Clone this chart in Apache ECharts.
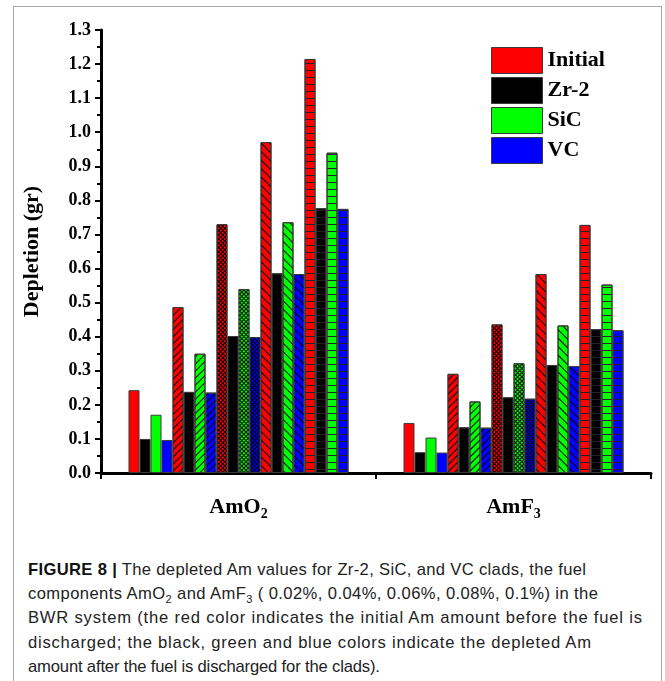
<!DOCTYPE html>
<html lang="en">
<head>
<meta charset="UTF-8">
<title>Depletion</title>
<script src="https://cdn.jsdelivr.net/npm/echarts@6/dist/echarts.min.js"></script>
<style>
    body { margin: 0; background: #fff; }
    #frame { position: absolute; left: 13px; top: 6px; width: 649px; height: 680px; border: 1px solid #a8a8a8; box-sizing: border-box; }
    #main { position: absolute; left: 0; top: 0; width: 665px; height: 530px; }
    #caption { position: absolute; left: 28px; top: 558px; font-family: "Liberation Sans", sans-serif; font-size: 16.6px; line-height: 24.2px; color: #222; }
    #caption div { white-space: nowrap; }
    #caption b { font-weight: bold; color: #111; }
    #caption sub { font-size: 11px; line-height: 0; }
</style>
</head>
<body>
<div id="frame"></div>
<div id="main"></div>
<div id="caption">
    <div data-w="558"><b>FIGURE 8 |</b> The depleted Am values for Zr-2, SiC, and VC clads, the fuel</div>
    <div data-w="570">components AmO<sub>2</sub> and AmF<sub>3</sub> ( 0.02%, 0.04%, 0.06%, 0.08%, 0.1%) in the</div>
    <div data-w="614">BWR system (the red color indicates the initial Am amount before the fuel is</div>
    <div data-w="563">discharged; the black, green and blue colors indicate the depleted Am</div>
    <div data-w="352">amount after the fuel is discharged for the clads).</div>
</div>
<script type="text/javascript">
    // categories (fuel components) and clads
    var fuels = ['AmO2', 'AmF3'];
    var clads = ['Initial', 'Zr-2', 'SiC', 'VC'];
    var concentrations = ['0.02%', '0.04%', '0.06%', '0.08%', '0.1%'];
    var yTicks = [0, 0.1, 0.2, 0.3, 0.4, 0.5, 0.6, 0.7, 0.8, 0.9, 1.0, 1.1, 1.2, 1.3];

    // depletion values (gr) per clad, per concentration: [AmO2, AmF3]
    var initial = [[0.243, 0.147], [0.487, 0.291], [0.730, 0.436], [0.971, 0.584], [1.215, 0.728]];
    var zr2     = [[0.100, 0.061], [0.238, 0.134], [0.402, 0.222], [0.586, 0.317], [0.777, 0.422]];
    var sic     = [[0.171, 0.104], [0.350, 0.210], [0.540, 0.322], [0.736, 0.433], [0.940, 0.553]];
    var vc      = [[0.097, 0.060], [0.236, 0.133], [0.399, 0.218], [0.584, 0.314], [0.775, 0.419]];

    var cladData = [initial, zr2, sic, vc];
    var colors = ['#ff0000', '#000000', '#00ff00', '#0000ff'];

    // hatch style for each concentration ( / , cross, \ , horizontal )
    function hatch(k, color) {
        if (k === 1) return { symbol: 'rect', color: '#000', dashArrayX: [1, 0], dashArrayY: [1, 3.2], rotation: -Math.PI / 4 };
        if (k === 2) return { symbol: 'rect', color: color, backgroundColor: '#000', dashArrayX: [2, 1], dashArrayY: [2, 1], rotation: Math.PI / 4 };
        if (k === 3) return { symbol: 'rect', color: '#000', dashArrayX: [1, 0], dashArrayY: [1, 4.7], rotation: Math.PI / 4 };
        if (k === 4) return { symbol: 'rect', color: '#222', dashArrayX: [1, 0], dashArrayY: [1, 5.8], rotation: 0 };
        return null;
    }

    var series = [];
    for (var k = 0; k < concentrations.length; k++) {
        for (var c = 0; c < clads.length; c++) {
            var st = { color: colors[c], borderColor: '#3a3a3a', borderWidth: 1 };
            var d = hatch(k, colors[c]);
            if (d) st.decal = d;
            series.push({
                name: clads[c],
                type: 'bar',
                data: cladData[c][k],
                barGap: 0,
                barCategoryGap: '20%',
                itemStyle: st,
                emphasis: { disabled: true }
            });
        }
    }

    var serif = '"Liberation Serif", "Times New Roman", serif';
    var option = {
        animation: false,
        legend: {
            data: clads,
            icon: 'rect',
            orient: 'vertical',
            left: 486,
            top: 42,
            itemWidth: 51,
            itemHeight: 26,
            itemGap: 3,
            textStyle: { fontFamily: serif, fontWeight: 'bold', fontSize: 22, color: '#000' },
            itemStyle: { borderColor: '#3a3a3a', borderWidth: 1 }
        },
        grid: { left: 101, right: 14, top: 30, bottom: 57 },
        xAxis: {
            type: 'category',
            data: fuels,
            axisLine: { lineStyle: { color: '#000', width: 3 } },
            axisTick: { show: true, length: 6, lineStyle: { color: '#000', width: 2 } },
            axisLabel: {
                margin: 20,
                formatter: function (v) {
                    return v.replace(/(\d)/, '{sub|$1}');
                },
                fontFamily: serif, fontWeight: 'bold', fontSize: 22, color: '#000',
                rich: { sub: { fontFamily: serif, fontWeight: 'bold', fontSize: 14, verticalAlign: 'bottom', padding: [14, 0, 0, 0] } }
            }
        },
        yAxis: {
            type: 'value',
            min: yTicks[0],
            max: yTicks[yTicks.length - 1],
            interval: 0.1,
            name: 'Depletion (gr)',
            nameLocation: 'middle',
            nameGap: 58,
            nameTextStyle: { fontFamily: serif, fontWeight: 'bold', fontSize: 22, color: '#000' },
            axisLine: { show: true, lineStyle: { color: '#000', width: 3 } },
            axisTick: { show: true, length: 6, lineStyle: { color: '#000', width: 2 } },
            minorTick: { show: true, splitNumber: 2, length: 4, lineStyle: { color: '#000', width: 2 } },
            splitLine: { show: false },
            axisLabel: {
                margin: 10,
                formatter: function (v) { return v.toFixed(1); },
                fontFamily: serif, fontWeight: 'bold', fontSize: 18, color: '#000'
            }
        },
        series: series
    };

    var Chart = echarts.init(document.getElementById('main'));
    Chart.setOption(option);

    // stretch each caption line to the width it has in the printed figure
    var lines = document.querySelectorAll('#caption div');
    for (var i = 0; i < lines.length; i++) {
        var el = lines[i];
        el.style.display = 'inline-block';
        var w = el.getBoundingClientRect().width;
        var n = el.textContent.length - 1;
        var target = parseFloat(el.getAttribute('data-w'));
        el.style.letterSpacing = ((target - w) / n).toFixed(3) + 'px';
        el.style.display = 'block';
    }
</script>
</body>
</html>
